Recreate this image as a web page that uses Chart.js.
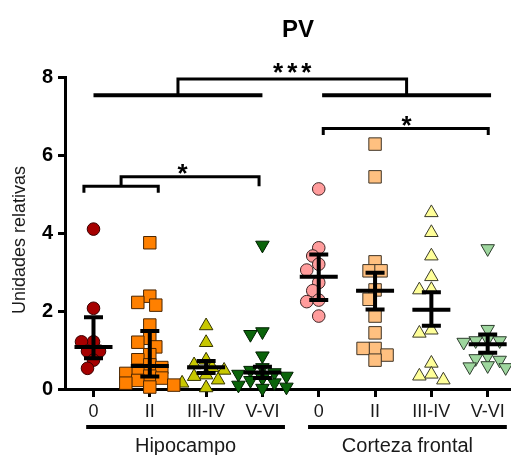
<!DOCTYPE html>
<html>
<head>
<meta charset="utf-8">
<script src="https://cdn.jsdelivr.net/npm/chart.js@4"></script>
<style>
  html, body { margin: 0; padding: 0; background: #fff; }
  #contenedor { width: 511px; height: 455px; position: relative; }
</style>
</head>
<body>
<div id="contenedor"><canvas id="graficoPV"></canvas></div>
<script>
// Categorías del eje X y regiones
const categorias = ["0", "II", "III-IV", "V-VI", "0", "II", "III-IV", "V-VI"];
const regiones = ["Hipocampo", "Corteza frontal"];
const ticksY = [0, 2, 4, 6, 8];

// Valores individuales (unidades relativas)
const hipo0 = [4.10, 2.07, 1.21, 1.21, 0.97, 0.97, 0.74, 0.53];
const hipoII = [3.75, 2.38, 2.22, 2.15, 1.64, 1.30, 1.20, 1.08, 0.88, 0.75, 0.62, 0.55, 0.48, 0.40, 0.33, 0.28, 0.22, 0.15, 0.10, 0.05];
const hipoIII = [1.62, 1.19, 0.74, 0.62, 0.55, 0.48, 0.36, 0.32, 0.23, 0.15, 0.03];
const hipoV = [3.69, 1.47, 1.40, 0.85, 0.55, 0.48, 0.42, 0.38, 0.33, 0.28, 0.22, 0.16, 0.10, 0.05, 0.02];
const corteza0 = [5.13, 3.62, 3.41, 3.20, 3.05, 2.73, 2.52, 2.28, 2.24, 1.87];
const cortezaII = [6.28, 5.44, 3.26, 3.03, 3.03, 2.54, 2.30, 1.87, 1.44, 1.04, 1.04, 0.87, 0.74];
const cortezaIII = [4.52, 4.01, 3.41, 2.88, 2.55, 2.54, 1.51, 1.43, 0.66, 0.38, 0.33, 0.23];
const cortezaV = [3.60, 1.53, 1.28, 1.24, 1.24, 1.20, 1.10, 0.85, 0.78, 0.74, 0.60, 0.57, 0.55];

// Línea central y barras de error de cada grupo
const centro = [1.08, 0.59, 0.56, 0.42, 2.88, 2.52, 2.03, 1.15];
const errorInf = [0.79, 0.32, 0.41, 0.28, 2.28, 2.04, 1.62, 0.93];
const errorSup = [1.84, 1.49, 0.72, 0.57, 3.45, 2.98, 2.48, 1.40];

const grupos = [hipo0, hipoII, hipoIII, hipoV, corteza0, cortezaII, cortezaIII, cortezaV];

// Estilo de los marcadores
const estilos = [
  { forma: "circle", relleno: "#a60000", borde: "#3a0000", radio: 6.3, rot: 0 },
  { forma: "rect", relleno: "#ff8000", borde: "#4a2500", radio: 8.8, rot: 0 },
  { forma: "triangle", relleno: "#c8c800", borde: "#333300", radio: 7.8, rot: 0 },
  { forma: "triangle", relleno: "#0a640a", borde: "#002000", radio: 7.8, rot: 180 },
  { forma: "circle", relleno: "#ff9c9c", borde: "#3a2424", radio: 6.3, rot: 0 },
  { forma: "rect", relleno: "#ffc080", borde: "#3f3426", radio: 8.8, rot: 0 },
  { forma: "triangle", relleno: "#ffff99", borde: "#3a3a2a", radio: 7.8, rot: 0 },
  { forma: "triangle", relleno: "#9ed69e", borde: "#2e3e2e", radio: 7.8, rot: 180 }
];

const FUENTE = "'Liberation Sans', Arial, sans-serif";

// Dibuja barras de error, corchetes de significancia y textos
const anotaciones = {
  id: "anotaciones",
  afterDatasetsDraw(chart) {
    const ctx = chart.ctx, sx = chart.scales.x, sy = chart.scales.y;
    ctx.save();
    ctx.strokeStyle = "#000";
    ctx.lineCap = "butt";
    centro.forEach((c, i) => {
      const x = sx.getPixelForValue(i);
      const yc = sy.getPixelForValue(c), yi = sy.getPixelForValue(errorInf[i]), ys = sy.getPixelForValue(errorSup[i]);
      ctx.lineWidth = 4;
      ctx.beginPath();
      ctx.moveTo(x, ys); ctx.lineTo(x, yi);
      ctx.moveTo(x - 9.5, ys); ctx.lineTo(x + 9.5, ys);
      ctx.moveTo(x - 9.5, yi); ctx.lineTo(x + 9.5, yi);
      ctx.moveTo(x - 19, yc); ctx.lineTo(x + 19, yc);
      ctx.stroke();
    });
    ctx.restore();
  },
  afterDraw(chart) {
    const ctx = chart.ctx, sx = chart.scales.x, sy = chart.scales.y;
    const px = v => sx.getPixelForValue(v), py = v => sy.getPixelForValue(v);
    const area = chart.chartArea;
    ctx.save();
    ctx.strokeStyle = "#000";
    ctx.fillStyle = "#000";

    // el eje X continúa hasta el borde derecho
    ctx.lineWidth = 3;
    ctx.beginPath();
    ctx.moveTo(area.right - 2, Math.round(py(0) - 0.5) + 0.5);
    ctx.lineTo(chart.width, Math.round(py(0) - 0.5) + 0.5);
    ctx.stroke();

    // título
    ctx.font = "bold 24px " + FUENTE;
    ctx.textAlign = "center";
    ctx.textBaseline = "alphabetic";
    ctx.fillText("PV", 298, 37);

    // título eje Y
    ctx.save();
    ctx.translate(20, 240);
    ctx.rotate(-Math.PI / 2);
    ctx.font = "18px " + FUENTE;
    ctx.fillStyle = "#1a1a1a";
    ctx.textBaseline = "middle";
    ctx.fillText("Unidades relativas", 0, 0);
    ctx.restore();

    // líneas y nombres de región
    const yReg = area.bottom + 38;
    [[-0.13, 3.4], [3.81, 7.34]].forEach((r, k) => {
      ctx.lineWidth = 4;
      ctx.beginPath();
      ctx.moveTo(px(r[0]), yReg); ctx.lineTo(px(r[1]), yReg);
      ctx.stroke();
      ctx.font = "20px " + FUENTE;
      ctx.fillStyle = "#1a1a1a";
      ctx.fillText(regiones[k], (px(r[0]) + px(r[1])) / 2, yReg + 25);
    });

    // corchetes de significancia
    const corchete = (x1, x2, yTop, yIzq, yDer, grosor) => {
      ctx.lineWidth = grosor;
      ctx.beginPath();
      ctx.moveTo(px(x1), py(yIzq)); ctx.lineTo(px(x1), py(yTop));
      ctx.lineTo(px(x2), py(yTop)); ctx.lineTo(px(x2), py(yDer));
      ctx.stroke();
    };
    const linea = (x1, x2, y, grosor) => {
      ctx.lineWidth = grosor;
      ctx.beginPath();
      ctx.moveTo(px(x1), py(y)); ctx.lineTo(px(x2), py(y));
      ctx.stroke();
    };
    const asterisco = (txt, x, y) => {
      ctx.font = "bold 26px " + FUENTE;
      ctx.fillStyle = "#000";
      ctx.letterSpacing = txt.length > 1 ? "4px" : "0px";
      ctx.textAlign = "center";
      ctx.fillText(txt, px(x) + (txt.length > 1 ? 2 : 0), py(y) + 15);
      ctx.letterSpacing = "0px";
    };

    linea(0, 3, 7.53, 4);
    linea(4.06, 7.06, 7.53, 4);
    corchete(1.5, 5.56, 7.95, 7.53, 7.53, 3);
    asterisco("***", 3.53, 8.27);

    corchete(4.08, 7.01, 6.68, 6.51, 6.51, 3);
    asterisco("*", 5.56, 6.92);

    corchete(-0.17, 1.15, 5.2, 5.03, 5.03, 3);
    corchete(0.49, 2.94, 5.44, 5.2, 5.2, 3);
    asterisco("*", 1.58, 5.69);

    ctx.restore();
  }
};

// Distribuye los puntos horizontalmente para que no se tapen del todo
function dispersar(chart) {
  const sx = chart.scales.x, sy = chart.scales.y;
  const pxX = sx.getPixelForValue(1) - sx.getPixelForValue(0);
  const pxY = sy.getPixelForValue(0) - sy.getPixelForValue(1);
  const PASO = 6, DIST = 9.5;
  chart.data.datasets.forEach((ds, i) => {
    const valores = grupos[i];
    const colocados = [];
    const desp = valores.map(() => 0);
    const orden = valores.map((v, k) => k).sort((a, b) => valores[b] - valores[a]);
    orden.forEach(k => {
      const yPix = valores[k] * pxY;
      let elegido = 0;
      for (let n = 0; n < 10; n++) {
        const dx = (n % 2 ? -1 : 1) * Math.ceil(n / 2) * PASO;
        elegido = dx;
        if (colocados.every(p => Math.hypot(p[0] - dx, p[1] - yPix) >= DIST)) break;
      }
      desp[k] = elegido;
      colocados.push([elegido, yPix]);
    });
    ds.data = valores.map((v, k) => ({ x: i + desp[k] / pxX, y: v }));
  });
  chart.update("none");
}

const ctx = document.getElementById("graficoPV").getContext("2d");
const grafico = new Chart(ctx, {
  type: "scatter",
  data: {
    datasets: grupos.map((valores, i) => ({
      label: categorias[i],
      data: valores.map(v => ({ x: i, y: v })),
      pointStyle: estilos[i].forma,
      pointRadius: estilos[i].radio,
      pointRotation: estilos[i].rot,
      backgroundColor: estilos[i].relleno,
      borderColor: estilos[i].borde,
      borderWidth: 1,
      clip: false
    }))
  },
  options: {
    responsive: true,
    maintainAspectRatio: false,
    devicePixelRatio: 1,
    animation: false,
    layout: { padding: { top: 77, right: 0, bottom: 0, left: 0 } },
    plugins: { legend: { display: false }, tooltip: { enabled: false } },
    scales: {
      x: {
        type: "linear",
        min: -0.506,
        max: 7.24,
        afterBuildTicks: s => { s.ticks = categorias.map((c, i) => ({ value: i })); },
        afterFit: s => { s.height = 66; s.paddingLeft = 0; s.paddingRight = 0; },
        ticks: {
          autoSkip: false,
          maxRotation: 0,
          padding: 4,
          color: "#1a1a1a",
          font: { family: FUENTE, size: 18 },
          callback: v => categorias[v]
        },
        grid: { drawOnChartArea: false, drawTicks: true, tickLength: 8, color: "#000", lineWidth: 3 },
        border: { display: true, color: "#000", width: 3 }
      },
      y: {
        min: 0,
        max: 8,
        afterBuildTicks: s => { s.ticks = ticksY.map(v => ({ value: v })); },
        afterFit: s => { s.width = 65; s.paddingTop = 0; s.paddingBottom = 0; },
        ticks: {
          padding: 5,
          color: "#000",
          font: { family: FUENTE, size: 20, weight: "bold" }
        },
        grid: { drawOnChartArea: false, drawTicks: true, tickLength: 7, color: "#000", lineWidth: 3 },
        border: { display: true, color: "#000", width: 3 }
      }
    }
  },
  plugins: [anotaciones]
});

dispersar(grafico);
</script>
</body>
</html>
